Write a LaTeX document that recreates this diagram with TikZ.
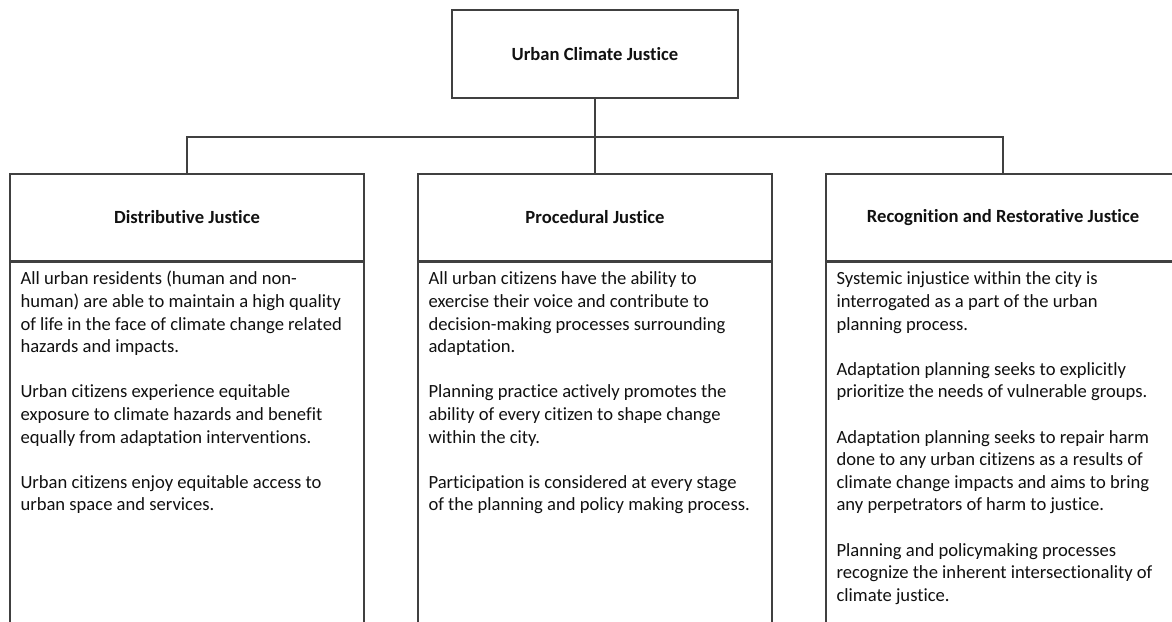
\documentclass[tikz,border=0pt]{standalone}
\usepackage{fontspec}
\setmainfont{Carlito}[Ligatures=NoCommon]
\usetikzlibrary{calc}
\definecolor{linec}{HTML}{404040}
\definecolor{txtc}{HTML}{111111}
\newcommand{\bodyfont}{\fontsize{18.6}{22.6}\selectfont}
\newcommand{\pgap}{\\[22.6pt]}
\begin{document}
\begin{tikzpicture}[x=1pt,y=1pt,
  box/.style={draw=linec, line width=1.3pt, rectangle, inner sep=0pt, text=txtc},
  head/.style={box, minimum width=354pt, minimum height=87pt, font=\bodyfont\bfseries},
  bodybox/.style={box, minimum width=354pt, minimum height=420pt, anchor=north},
  bodytext/.style={anchor=north west, inner sep=0pt, align=left, text=txtc, font=\bodyfont},
  conn/.style={draw=linec, line width=1.3pt}]
\useasboundingbox (0,0) rectangle (1172,621);
\clip (0,0) rectangle (1172,621);
\fill[white] (0,0) rectangle (1172,621);
\node[box, minimum width=286pt, minimum height=88pt, font=\bodyfont\bfseries] (top) at (595,567) {Urban Climate Justice};
\node[head] (h1) at (187,403.5) {Distributive Justice};
\node[head] (h2) at (595,403.5) {Procedural Justice};
\node[head] (h3) at (1003,403.5) {Recognition and Restorative Justice};
\node[bodybox] (b1) at (h1.south) {};
\node[bodybox] (b2) at (h2.south) {};
\node[bodybox] (b3) at (h3.south) {};
\node[bodytext] (t1) at ($(b1.north west)+(11,-7.2)$) {\strut All urban residents (human and non-\\
human) are able to maintain a high quality\\
of life in the face of climate change related\\
hazards and impacts.\pgap
Urban citizens experience equitable\\
exposure to climate hazards and benefit\\
equally from adaptation interventions.\pgap
Urban citizens enjoy equitable access to\\
urban space and services.};
\node[bodytext] (t2) at ($(b2.north west)+(11,-7.2)$) {\strut All urban citizens have the ability to\\
exercise their voice and contribute to\\
decision-making processes surrounding\\
adaptation.\pgap
Planning practice actively promotes the\\
ability of every citizen to shape change\\
within the city.\pgap
Participation is considered at every stage\\
of the planning and policy making process.};
\node[bodytext] (t3) at ($(b3.north west)+(11,-7.2)$) {\strut Systemic injustice within the city is\\
interrogated as a part of the urban\\
planning process.\pgap
Adaptation planning seeks to explicitly\\
prioritize the needs of vulnerable groups.\pgap
Adaptation planning seeks to repair harm\\
done to any urban citizens as a results of\\
climate change impacts and aims to bring\\
any perpetrators of harm to justice.\pgap
Planning and policymaking processes\\
recognize the inherent intersectionality of\\
climate justice.};
\coordinate (j) at (595,484);
\draw[conn] (top.south) -- (j);
\draw[conn] (h1.north) |- (j) -| (h3.north);
\draw[conn] (j) -- (h2.north);
\end{tikzpicture}
\end{document}
